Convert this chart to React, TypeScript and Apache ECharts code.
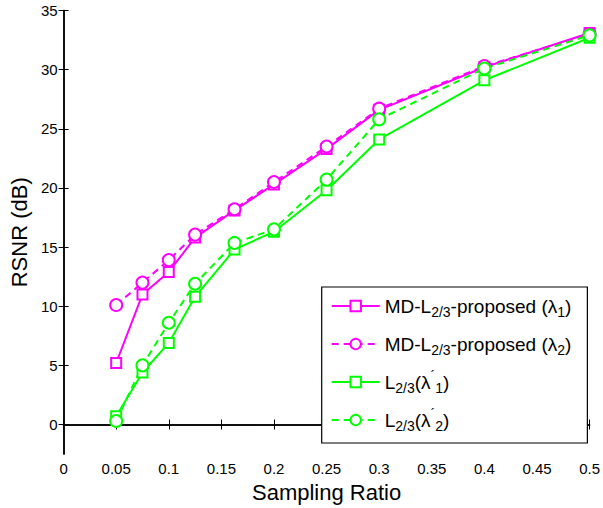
import React, { useEffect, useRef } from "react";
import * as echarts from "echarts";

const xValues = [0.05, 0.075, 0.1, 0.125, 0.1625, 0.2, 0.25, 0.3, 0.4, 0.5];
const mdLambda1 = [5.2, 11.0, 12.9, 15.8, 18.1, 20.3, 23.3, 26.6, 30.2, 33.1];
const mdLambda2 = [10.1, 12.0, 13.9, 16.05, 18.2, 20.5, 23.5, 26.7, 30.3, 33.0];
const lLambda1 = [0.7, 4.4, 6.9, 10.8, 14.8, 16.3, 19.8, 24.1, 29.1, 32.7];
const lLambda2 = [0.3, 5.0, 8.6, 11.9, 15.35, 16.5, 20.7, 25.8, 30.1, 32.9];
const yTickValues = [0, 5, 10, 15, 20, 25, 30, 35];

const seriesNames = [
  "MD-L2/3-proposed (λ1)",
  "MD-L2/3-proposed (λ2)",
  "L2/3(λ'1)",
  "L2/3(λ'2)",
];
const richLabels: Record<string, string> = {
  [seriesNames[0]]: "MD-L{sub|2/3}-proposed (λ{sub|1})",
  [seriesNames[1]]: "MD-L{sub|2/3}-proposed (λ{sub|2})",
  [seriesNames[2]]: "L{sub|2/3}(λ{pr|´}{sub|1})",
  [seriesNames[3]]: "L{sub|2/3}(λ{pr|´}{sub|2})",
};

const MAGENTA = "#ff00ff";
const GREEN = "#00ff00";
const FONT = "Liberation Sans, Arial, Helvetica, sans-serif";

export default function App() {
  const ref = useRef<HTMLDivElement>(null);
  useEffect(() => {
    if (!ref.current) return;
    const chart = echarts.init(ref.current, undefined, { renderer: "svg" });
    const pair = (ys: number[]) => xValues.map((x, i) => [x, ys[i]]);
    const mk = (name: string, ys: number[], color: string, dashed: boolean, symbol: string, size: number) => ({
      name,
      type: "line",
      data: pair(ys),
      symbol,
      symbolSize: size,
      showAllSymbol: true,
      lineStyle: { color, width: 2, type: dashed ? [7, 5] : "solid" },
      itemStyle: { color, borderColor: color, borderWidth: 2 },
      emphasis: { disabled: true },
      z: 3,
    });
    const commonAxisLine = { show: true, lineStyle: { color: "#000", width: 1.5 } };
    const tick = { show: true, inside: true, length: 5, lineStyle: { color: "#000", width: 1 } };
    chart.setOption({
      animation: false,
      backgroundColor: "#fff",
      textStyle: { fontFamily: FONT },
      grid: { left: 63.3, right: 13, top: 10.5, bottom: 51.5, containLabel: false },
      xAxis: [
        {
          type: "value",
          min: 0,
          max: 0.5,
          interval: 0.05,
          name: "Sampling Ratio",
          nameLocation: "middle",
          nameGap: 22,
          nameTextStyle: { fontSize: 22, color: "#000", fontFamily: FONT },
          axisLine: commonAxisLine,
          axisTick: tick,
          axisLabel: { fontSize: 15, color: "#000", margin: 7, fontFamily: FONT },
          splitLine: { show: false },
        },
        {
          type: "value",
          position: "top",
          min: 0,
          max: 0.5,
          interval: 0.05,
          axisLine: commonAxisLine,
          axisTick: tick,
          axisLabel: { show: false },
          splitLine: { show: false },
        },
      ],
      yAxis: [
        {
          type: "value",
          min: -2.5,
          max: 35,
          name: "RSNR (dB)",
          nameLocation: "middle",
          nameGap: 28,
          nameTextStyle: { fontSize: 22, color: "#000", fontFamily: FONT },
          axisLine: commonAxisLine,
          axisTick: { ...tick, customValues: yTickValues },
          axisLabel: { fontSize: 15, color: "#000", margin: 6, customValues: yTickValues, fontFamily: FONT },
          splitLine: { show: false },
        },
        {
          type: "value",
          position: "right",
          min: -2.5,
          max: 35,
          axisLine: commonAxisLine,
          axisTick: { ...tick, customValues: yTickValues },
          axisLabel: { show: false, customValues: yTickValues },
          splitLine: { show: false },
        },
      ],
      legend: {
        orient: "vertical",
        left: 321.7,
        top: 287,
        padding: [6, 16, 10, 9],
        itemGap: 12,
        itemWidth: 48,
        itemHeight: 13,
        backgroundColor: "#fff",
        borderColor: "#000",
        borderWidth: 1.2,
        borderRadius: 0,
        selectedMode: false,
        data: seriesNames,
        formatter: (name: string) => richLabels[name] || name,
        textStyle: {
          fontSize: 19,
          color: "#000",
          fontFamily: FONT,
          lineHeight: 26,
          rich: {
            sub: { fontSize: 14, lineHeight: 13, verticalAlign: "bottom", color: "#000", fontFamily: FONT },
            pr: { fontSize: 14, lineHeight: 14, verticalAlign: "top", color: "#000", fontFamily: FONT },
          },
        },
      },
      series: [
        mk(seriesNames[0], mdLambda1, MAGENTA, false, "emptyRect", 10),
        mk(seriesNames[1], mdLambda2, MAGENTA, true, "emptyCircle", 12),
        mk(seriesNames[2], lLambda1, GREEN, false, "emptyRect", 10),
        mk(seriesNames[3], lLambda2, GREEN, true, "emptyCircle", 12),
      ],
    });
    return () => chart.dispose();
  }, []);
  return <div ref={ref} style={{ width: 603, height: 508, position: "absolute", left: 0, top: 0 }} />;
}
